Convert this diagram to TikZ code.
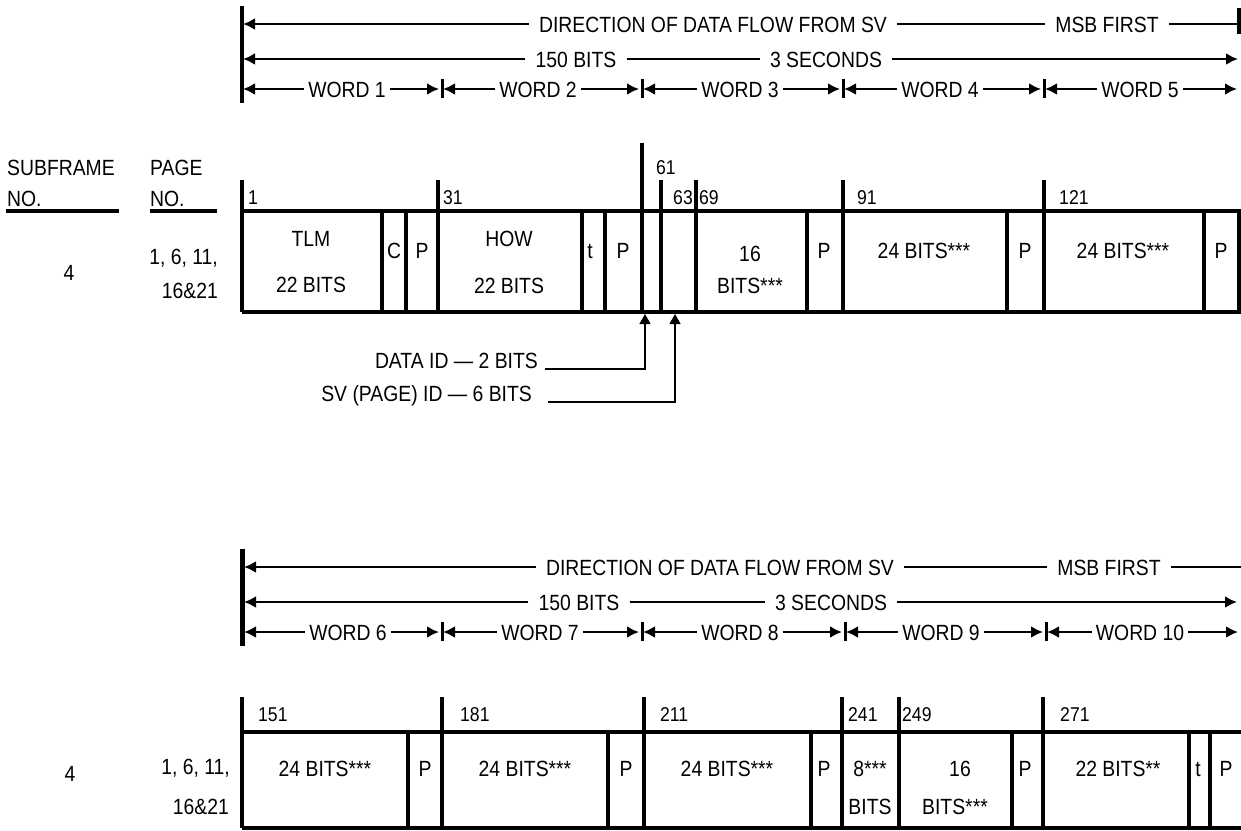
\documentclass[tikz,border=0pt]{standalone}
\usepackage{fontspec}
\setmainfont{Liberation Sans}[FakeStretch=0.88]
\usetikzlibrary{arrows.meta}

\tikzset{
  lbl/.style={font=\fontsize{22}{24}\selectfont, inner sep=0pt, text height=16pt, text depth=0pt},
  hlbl/.style={lbl, inner xsep=10pt},
  wlbl/.style={lbl, inner xsep=4pt},
  bitno/.style={font=\fontsize{20}{22}\selectfont, inner sep=0pt, text height=14pt, text depth=0pt, anchor=west},
  flow/.style={line width=2.8pt},
  tip/.style={flow, -{Latex[length=12pt,width=12pt]}},
  bar/.style={line width=3.6pt},
  wbar/.style={line width=3pt},
  ptr/.style={line width=1.2pt, -{Triangle[length=10pt,width=11pt]}},
}

\begin{document}
\begin{tikzpicture}[x=1pt,y=-1pt]
\useasboundingbox (0,0) rectangle (1241,830);

% upper frame, words 1 to 5
\draw[bar] (242,6) -- (242,103);
\draw[bar] (1239,8) -- (1239,34);
\foreach \x in {442,642,843,1044} \draw[wbar] (\x,79) -- (\x,98);

\coordinate (dl1) at (243,24);
\coordinate (dr1) at (1239,24);
\node[hlbl] (dir1) at (713,24) {DIRECTION OF DATA FLOW FROM SV};
\node[hlbl] (msb1) at (1107,24) {MSB FIRST};
\draw[flow] (dr1) -- (msb1);
\draw[flow] (msb1) -- (dir1);
\draw[tip] (dir1) -- (dl1);

\coordinate (bl1) at (243,59);
\coordinate (br1) at (1238,59);
\node[hlbl] (bits1) at (576,59) {150 BITS};
\node[hlbl] (sec1) at (826,59) {3 SECONDS};
\draw[tip] (bits1) -- (bl1);
\draw[flow] (bits1) -- (sec1);
\draw[tip] (sec1) -- (br1);

\foreach \i/\xl/\xm/\xr in {1/243/347/442, 2/443/538/642, 3/643/740/843, 4/844/940/1044, 5/1045/1140/1240} {
  \coordinate (wl\i) at (\xl,89);
  \coordinate (wr\i) at (\xr,89);
  \node[wlbl] (wd\i) at (\xm,89) {WORD \i};
  \draw[tip] (wd\i) -- (wl\i);
  \draw[tip, shorten >=3pt] (wd\i) -- (wr\i);
}

% upper table
\node[lbl, anchor=west] (sub) at (7,167) {SUBFRAME};
\node[lbl, anchor=west] (subno) at (7,198) {NO.};
\draw[bar] (6,211) -- (119,211);
\node[lbl, anchor=west] (pg) at (150,167) {PAGE};
\node[lbl, anchor=west] (pgno) at (150,198) {NO.};
\draw[bar] (150,211) -- (217,211);
\node[lbl] (sf1) at (69,272) {4};
\node[lbl, anchor=east] (pl1) at (218,256) {1, 6, 11,};
\node[lbl, anchor=east] (pl2) at (218,290) {16\&21};

\draw[bar] (242,211) -- (1241,211);
\draw[bar] (242,312) -- (1241,312);
\foreach \x in {242,382,406,438,582,605,642,661,696,807,843,1007,1044,1204,1239} \draw[bar] (\x,211) -- (\x,312);
\foreach \x in {242,438,661,696,843,1044} \draw[bar] (\x,180) -- (\x,211);
\draw[bar] (642,143) -- (642,211);

\node[bitno] (b1) at (248,197) {1};
\node[bitno] (b31) at (443,197) {31};
\node[bitno] (b61) at (656,167) {61};
\node[bitno, anchor=east] (b63) at (693,197) {63};
\node[bitno] (b69) at (699,197) {69};
\node[bitno] (b91) at (857,197) {91};
\node[bitno] (b121) at (1059,197) {121};

\node[lbl] (tlm) at (311,238) {TLM};
\node[lbl] (tlmb) at (311,284) {22 BITS};
\node[lbl] (c1) at (394,250) {C};
\node[lbl] (p1) at (422,250) {P};
\node[lbl] (how) at (509,238) {HOW};
\node[lbl] (howb) at (509,285) {22 BITS};
\node[lbl] (t1) at (590,250) {t};
\node[lbl] (p2) at (623,250) {P};
\node[lbl] (w3a) at (750,253) {16};
\node[lbl] (w3b) at (750,285) {BITS***};
\node[lbl] (p3) at (824,250) {P};
\node[lbl] (w4) at (924,250) {24 BITS***};
\node[lbl] (p4) at (1025,250) {P};
\node[lbl] (w5) at (1123,250) {24 BITS***};
\node[lbl] (p5) at (1221,250) {P};

\node[lbl, anchor=base east] (did) at (538,368) {DATA ID — 2 BITS};
\node[lbl, anchor=base east] (svid) at (532,401) {SV (PAGE) ID — 6 BITS};
\coordinate (id1) at (645,314);
\coordinate (id2) at (675,314);
\draw[ptr] ([xshift=7pt,yshift=-1pt]did.base east) -| (id1);
\draw[ptr] ([xshift=16pt,yshift=-1pt]svid.base east) -| (id2);

% lower frame, words 6 to 10
\draw[line width=5pt] (242,549) -- (242,646);
\foreach \x in {442,642,845,1046} \draw[wbar] (\x,622) -- (\x,641);

\coordinate (dl2) at (244,567);
\coordinate (dr2) at (1241,567);
\node[hlbl] (dir2) at (720,567) {DIRECTION OF DATA FLOW FROM SV};
\node[hlbl] (msb2) at (1109,567) {MSB FIRST};
\draw[flow] (dr2) -- (msb2);
\draw[flow] (msb2) -- (dir2);
\draw[tip] (dir2) -- (dl2);

\coordinate (bl2) at (244,602);
\coordinate (br2) at (1237,602);
\node[hlbl] (bits2) at (579,602) {150 BITS};
\node[hlbl] (sec2) at (831,602) {3 SECONDS};
\draw[tip] (bits2) -- (bl2);
\draw[flow] (bits2) -- (sec2);
\draw[tip] (sec2) -- (br2);

\foreach \i/\xl/\xm/\xr in {6/244/348/442, 7/443/540/642, 8/643/740/845, 9/846/941/1046, 10/1047/1140/1241} {
  \coordinate (wl\i) at (\xl,632);
  \coordinate (wr\i) at (\xr,632);
  \node[wlbl] (wd\i) at (\xm,632) {WORD \i};
  \draw[tip] (wd\i) -- (wl\i);
  \draw[tip, shorten >=3pt] (wd\i) -- (wr\i);
}

% lower table
\node[lbl] (sf2) at (70,773) {4};
\node[lbl, anchor=east] (pl3) at (230,766) {1, 6, 11,};
\node[lbl, anchor=east] (pl4) at (229,806) {16\&21};

\draw[bar] (242,732) -- (1241,732);
\draw[bar] (242,828) -- (1241,828);
\foreach \x in {242,408,442,608,644,811,842,899,1012,1043,1189,1210} \draw[bar] (\x,732) -- (\x,828);
\foreach \x in {242,442,644,842,899,1043} \draw[bar] (\x,697) -- (\x,732);

\node[bitno] (b151) at (258,714) {151};
\node[bitno] (b181) at (460,714) {181};
\node[bitno] (b211) at (660,714) {211};
\node[bitno] (b241) at (848,714) {241};
\node[bitno] (b249) at (902,714) {249};
\node[bitno] (b271) at (1060,714) {271};

\node[lbl] (w6) at (325,768) {24 BITS***};
\node[lbl] (p6) at (425,768) {P};
\node[lbl] (w7) at (525,768) {24 BITS***};
\node[lbl] (p7) at (626,768) {P};
\node[lbl] (w8) at (727,768) {24 BITS***};
\node[lbl] (p8) at (824,768) {P};
\node[lbl] (w9a) at (870,768) {8***};
\node[lbl] (w9b) at (870,806) {BITS};
\node[lbl] (w9c) at (960,768) {16};
\node[lbl] (w9d) at (955,806) {BITS***};
\node[lbl] (p9) at (1025,768) {P};
\node[lbl] (w10) at (1118,768) {22 BITS**};
\node[lbl] (t2) at (1198,768) {t};
\node[lbl] (p10) at (1226,768) {P};

\end{tikzpicture}
\end{document}
